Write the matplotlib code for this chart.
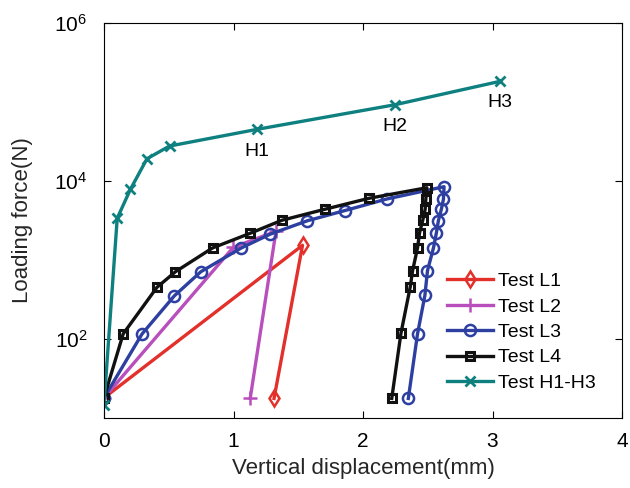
import numpy as np
import matplotlib
matplotlib.use("Agg")
import matplotlib.pyplot as plt
from matplotlib.ticker import NullLocator, FixedLocator

plt.rcParams['font.family'] = ['Liberation Sans', 'DejaVu Sans']

# Test L1
l1_x = [0.0, 1.533, 1.313]
l1_y = [18, 1535, 17.7]

# Test L2
l2_x = [0.0, 0.999, 1.328, 1.129]
l2_y = [18, 1450, 2310, 17.7]

# Test L3
l3_x = [0.0, 0.294, 0.544, 0.748, 1.060, 1.285, 1.571, 1.859, 2.184, 2.626,
        2.621, 2.605, 2.582, 2.567, 2.544, 2.498, 2.478, 2.421, 2.350]
l3_y = [18, 116, 353, 711, 1420, 2130, 3140, 4220, 5920, 8470,
        5860, 4390, 3140, 2220, 1420, 733, 357, 116, 17.7]

# Test L4
l4_x = [0.0, 0.148, 0.409, 0.552, 0.838, 1.129, 1.374, 1.706, 2.046, 2.493,
        2.485, 2.480, 2.462, 2.437, 2.421, 2.383, 2.365, 2.293, 2.222]
l4_y = [18, 116, 451, 711, 1420, 2180, 3185, 4390, 6040, 8220,
        5860, 4390, 3210, 2220, 1420, 733, 459, 118, 17.7]

# Test H1-H3
h_x = [0.0, 0.102, 0.204, 0.332, 0.506, 1.183, 2.248, 3.060]
h_y = [14.6, 3370, 7850, 19140, 27700, 45100, 92400, 183000]
h_labels = ['H1', 'H2', 'H3']
h_label_idx = [5, 6, 7]

fig = plt.figure(figsize=(6.3, 4.88), dpi=100)
# axes box: left 104px, right 622px, top 23px, bottom 418px
ax = fig.add_axes([104 / 630, 70 / 488, 518 / 630, 395 / 488])

lw = 2.4
ax.plot(l1_x, l1_y, color='#e3302a', lw=lw, marker='d', ms=8,
        mfc='none', mew=1.8, label='Test L1')
ax.plot(l2_x, l2_y, color='#b94fbd', lw=lw, marker='+', ms=10,
        mew=1.8, label='Test L2')
ax.plot(l3_x, l3_y, color='#2d3fa0', lw=lw, marker='o', ms=8,
        mfc='none', mew=1.8, label='Test L3')
ax.plot(l4_x, l4_y, color='#111111', lw=lw, marker='s', ms=5.5,
        mfc='none', mew=2.2, label='Test L4')
ax.plot(h_x, h_y, color='#0e8080', lw=lw, marker='x', ms=7,
        mew=2.0, label='Test H1-H3')

for lab, i in zip(h_labels, h_label_idx):
    ax.text(h_x[i], h_y[i] * 0.68, lab, ha='center', va='top', fontsize=14)

ax.set_yscale('log')
ax.set_xlim(0, 4)
ax.set_ylim(10, 1e6)
ax.yaxis.set_major_locator(FixedLocator([1e2, 1e4, 1e6]))
ax.yaxis.set_minor_locator(NullLocator())
ax.set_xticks([0, 1, 2, 3, 4])
ax.tick_params(direction='in', labelsize=15, length=5, top=True, right=True)
ax.tick_params(axis='x', pad=10)
ax.tick_params(axis='y', pad=12)
ax.set_xlabel('Vertical displacement(mm)', fontsize=16, color='#262626',
              labelpad=5)
ax.set_ylabel('Loading force(N)', fontsize=16, color='#262626',
              labelpad=15)

ax.legend(loc='upper left', bbox_to_anchor=(0.662, 0.368), frameon=False,
          fontsize=14, handlelength=2.35, labelspacing=0.4,
          borderpad=0, borderaxespad=0, handletextpad=0.3)

fig.savefig('out.png', dpi=100)
